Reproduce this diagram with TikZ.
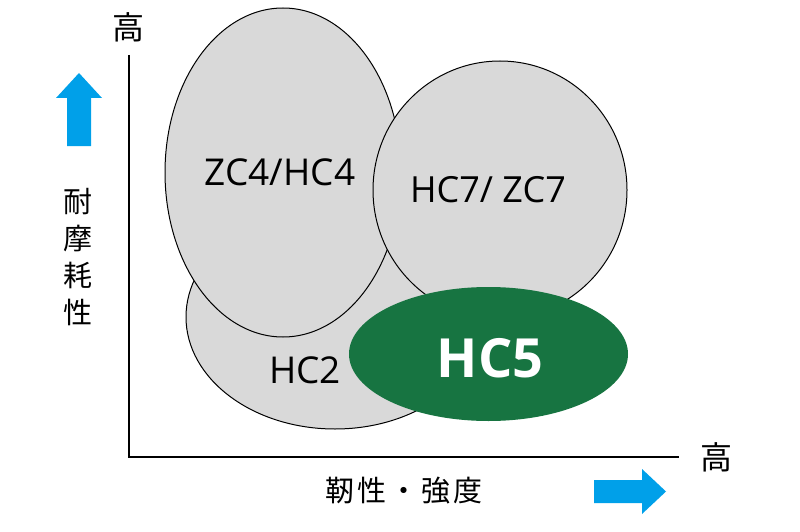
\documentclass[tikz,border=0pt]{standalone}
\usepackage{fontspec}
\setmainfont{Open Sans}
\newfontfamily\cjk{Noto Sans CJK JP}
\newfontfamily\cjkwide[LetterSpace=10]{Noto Sans CJK JP}
\usepackage{tikz}
\usetikzlibrary{calc}
\usetikzlibrary{shapes.geometric}
\usepackage{xcolor}
\definecolor{G0}{HTML}{D9D9D9}
\definecolor{G1}{HTML}{177441}
\definecolor{B0}{HTML}{00A0E9}
\tikzset{blob/.style={ellipse,draw=black,fill=G0,line width=1pt,inner sep=0pt}}
\tikzset{lab/.style={font=\fontsize{37}{40}\selectfont,text=black,inner sep=0pt}}

\begin{document}
\begin{tikzpicture}[x=1pt,y=-1pt]
\useasboundingbox (0,0) rectangle (800,532);

\def\lw{1.2pt}

\coordinate (o) at (129,457);
\coordinate (ytop) at (129,55);
\coordinate (xend) at (679,457);
\draw[line width=\lw] (ytop) -- (o) -- (xend);

\node[blob,minimum width=298,minimum height=224] (hctwo) at (335,317) {};
\node[blob,minimum width=236,minimum height=329] (zchc) at (283,172.5) {};
\node[blob,minimum width=254,minimum height=258] (hczc) at (500,190) {};
\node[ellipse,fill=G1,inner sep=0pt,minimum width=279,minimum height=134] (hcfive) at (488.5,354) {};

\node[lab] (lzchc) at (280,172.5) {ZC4/HC4};
\node[lab,font=\fontsize{36}{40}\selectfont] (lhczc) at (488,190) {HC7/ ZC7};
\node[lab] (lhctwo) at (305,370.5) {HC2};
\node[lab,font=\fontsize{54}{60}\selectfont\bfseries,text=white] (lhcfive) at (490,358) {HC5};

\node[inner sep=0pt,font=\cjk\fontsize{32}{36}\selectfont] (ytxt) at (128,27) {高};
\node[inner sep=0pt,font=\cjk\fontsize{32}{36}\selectfont] (xtxt) at (716,457) {高};
\node[inner sep=0pt,align=center,font=\cjk\fontsize{29}{37}\selectfont] (ylab) at (78,257) {耐\\摩\\耗\\性};
\node[inner sep=0pt,font=\cjkwide\fontsize{29}{32}\selectfont] (xlab) at (404,490.5) {靭性・強度};

\fill[B0] (67,146) -- (67,98) -- (56,98) -- (79,73) -- (102,98) -- (91,98) -- (91,146) -- cycle;
\fill[B0] (594,480) -- (642,480) -- (642,469) -- (666,491.5) -- (642,514) -- (642,503) -- (594,503) -- cycle;

\end{tikzpicture}
\end{document}
